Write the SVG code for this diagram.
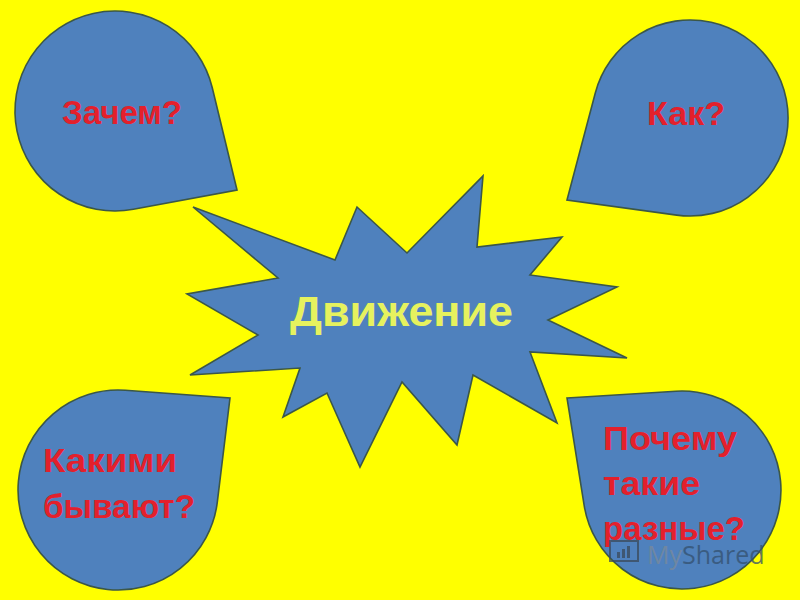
<svg xmlns="http://www.w3.org/2000/svg" width="800" height="600" viewBox="0 0 800 600">
<style>
.shape{fill:#4F81BD;stroke:#3B5748;stroke-width:1.6;stroke-linejoin:miter}
.q{font-family:"Liberation Sans",Arial,sans-serif;font-weight:bold;font-size:34px;fill:#E3202C}
.c{font-family:"Liberation Sans",Arial,sans-serif;font-weight:bold;font-size:42px;fill:#E6F25E}
</style>
<rect width="800" height="600" fill="#FFFF00"/>
<g id="center">
<path class="shape" d="M193,207 L335,260 L357,207 L407,253 L483,176 L477,247 L562,237 L530,275 L617,287 L548,320 L627,358 L530,352 L557,423 L473,375 L457,445 L402,382 L360,467 L327,393 L283,417 L300,368 L190,375 L258,335 L187,294 L278,278 Z"/>
<text class="c" x="290" y="326" textLength="223" lengthAdjust="spacingAndGlyphs">Движение</text>
</g>
<g id="zachem">
<path class="shape" d="M237,190 L212.2,87.5 A100 100 0 1 0 133.4,209.3 Z"/>
<text class="q" x="62" y="124" textLength="120" lengthAdjust="spacingAndGlyphs">Зачем?</text>
</g>
<g id="kak">
<path class="shape" d="M567,200 L595.3,93 A98 98 0 1 1 676.7,215.1 Z"/>
<text class="q" x="647" y="125" textLength="78" lengthAdjust="spacingAndGlyphs">Как?</text>
</g>
<g id="kakimi">
<path class="shape" d="M230,398 L217.3,502.2 A100 100 0 1 1 125.3,390.3 Z"/>
<text class="q" x="43" y="472" textLength="134" lengthAdjust="spacingAndGlyphs">Какими</text>
<text class="q" x="43" y="518" textLength="152" lengthAdjust="spacingAndGlyphs">бывают?</text>
</g>
<g id="pochemu">
<path class="shape" d="M567,398 L676,391.2 A99 99 0 1 1 584.2,505.7 Z"/>
<text class="q" x="603" y="450" textLength="134" lengthAdjust="spacingAndGlyphs">Почему</text>
<text class="q" x="603" y="495" textLength="97" lengthAdjust="spacingAndGlyphs">такие</text>
<text class="q" x="603" y="540" textLength="142" lengthAdjust="spacingAndGlyphs">разные?</text>
</g>
<g id="watermark" opacity="0.75">
<rect x="610" y="541" width="28" height="20" fill="none" stroke="#3A4A5A" stroke-width="2"/>
<rect x="617" y="552" width="3" height="6" fill="#3A4A5A"/>
<rect x="622" y="549" width="3" height="9" fill="#3A4A5A"/>
<rect x="627" y="546" width="3" height="12" fill="#3A4A5A"/>
<text x="647" y="564" font-family="'Open Sans','Liberation Sans',sans-serif" font-size="25" fill="#7A8A9A">My<tspan fill="#34506E">Shared</tspan></text>
</g>
</svg>
